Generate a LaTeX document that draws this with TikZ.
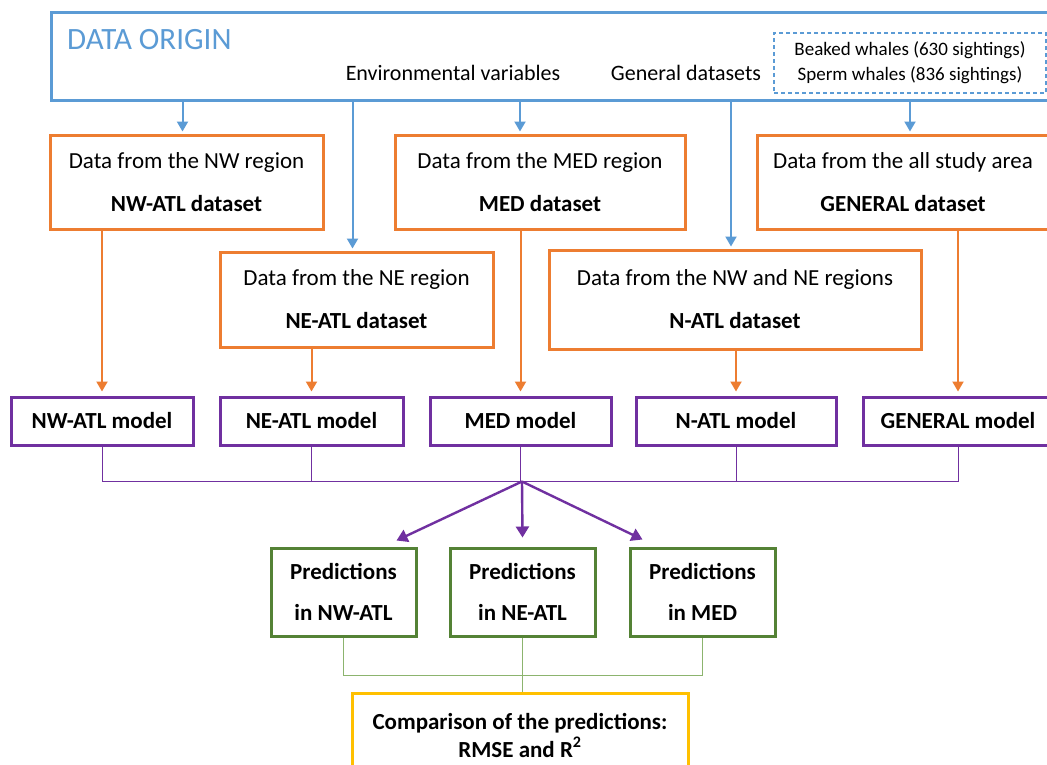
\documentclass[tikz,border=0pt]{standalone}
\usepackage{fontspec}
\setmainfont{Carlito}
\usetikzlibrary{arrows.meta,calc}
\definecolor{cblue}{HTML}{5B9BD5}
\definecolor{corange}{HTML}{ED7D31}
\definecolor{cpurple}{HTML}{7030A0}
\definecolor{cgreen}{HTML}{548235}
\definecolor{clgreen}{RGB}{140,180,110}
\definecolor{cyellow}{HTML}{FFC000}
\tikzset{
  txt/.style={font=\fontsize{22}{26}\selectfont, inner sep=0pt},
  obox/.style={draw=corange, line width=3pt, fill=white, align=center, font=\fontsize{23}{27}\selectfont, inner sep=0pt},
  mbox/.style={draw=cpurple, line width=3pt, fill=white, align=center, font=\fontsize{23}{27}\selectfont\bfseries, inner sep=0pt, minimum height=48pt},
  gbox/.style={draw=cgreen, line width=3pt, fill=white, align=center, font=\fontsize{23}{27}\selectfont\bfseries, inner sep=0pt, minimum width=145pt, minimum height=88pt},
  ybox/.style={draw=cyellow, line width=3pt, fill=white, align=center, font=\fontsize{23}{27}\selectfont\bfseries, inner sep=0pt},
  barrow/.style={draw=cblue, line width=2pt, -{Triangle[width=11pt,length=10pt]}, shorten >=2pt},
  oarrow/.style={draw=corange, line width=2pt, -{Triangle[width=11pt,length=10pt]}, shorten >=4pt},
  parrow/.style={draw=cpurple, line width=2.4pt, -{Triangle[width=13pt,length=11pt]}},
  pline/.style={draw=cpurple, line width=1pt},
  gline/.style={draw=clgreen, line width=1.2pt},
}
\begin{document}
\begin{tikzpicture}[x=1pt,y=-1pt]
\useasboundingbox (0,0) rectangle (1047,764);
\fill[white] (0,0) rectangle (1047,764);
\clip (0,0) rectangle (1047,764);

% data origin
\node[draw=cblue, line width=3pt, minimum width=1009pt, minimum height=88pt, inner sep=0pt] (origin) at (555.5,56) {};
\node[txt, anchor=base west, text=cblue, font=\fontsize{31}{37}\selectfont] (title) at (67,49) {DATA ORIGIN};
\node[txt] (env) at (453,73) {Environmental variables};
\node[txt] (gends) at (686,73) {General datasets};
\node[draw=cblue, dashed, dash pattern=on 4pt off 3pt, line width=1.3pt, minimum width=272pt, minimum height=60pt, align=center, inner sep=0pt, font=\fontsize{19}{25}\selectfont] (whales) at (910,63) {Beaked whales (630 sightings)\\Sperm whales (836 sightings)};

% datasets
\node[obox, minimum width=273pt, minimum height=94pt] (nw) at (186.5,182) {Data from the NW region\\[16pt]\textbf{NW-ATL dataset}};
\node[obox, minimum width=290pt, minimum height=94pt] (med) at (540,182) {Data from the MED region\\[16pt]\textbf{MED dataset}};
\node[obox, minimum width=292pt, minimum height=94pt] (gen) at (903,182) {Data from the all study area\\[16pt]\textbf{GENERAL dataset}};
\node[obox, minimum width=273pt, minimum height=95pt] (ne) at (356.5,299.5) {Data from the NE region\\[16pt]\textbf{NE-ATL dataset}};
\node[obox, minimum width=372pt, minimum height=99pt] (natl) at (735,299.5) {Data from the NW and NE regions\\[16pt]\textbf{N-ATL dataset}};

% models
\node[mbox, minimum width=182pt] (nwm) at (102,421) {NW-ATL model};
\node[mbox, minimum width=183pt] (nem) at (311.5,421) {NE-ATL model};
\node[mbox, minimum width=181pt] (medm) at (520.5,421) {MED model};
\node[mbox, minimum width=200pt] (natlm) at (736,421) {N-ATL model};
\node[mbox, minimum width=190pt] (genm) at (958,421) {GENERAL model};

% predictions
\node[gbox] (p1) at (343.5,592) {Predictions\\[14pt]in NW-ATL};
\node[gbox] (p2) at (522.5,592) {Predictions\\[14pt]in NE-ATL};
\node[gbox] (p3) at (702.5,592) {Predictions\\[14pt]in MED};

% comparison
\node[ybox, minimum width=336pt, minimum height=84pt] (cmp) at (520,735) {Comparison of the predictions:\\[1pt]RMSE and R\textsuperscript{2}};

% blue arrows
\coordinate (a1) at ($(nw.north)+(-4,0)$);
\coordinate (a2) at ($(ne.north)+(-4,0)$);
\coordinate (a3) at ($(med.north)+(-20,0)$);
\coordinate (a4) at ($(natl.north)+(-4,0)$);
\coordinate (a5) at ($(gen.north)+(7,0)$);
\foreach \a in {a1,a2,a3,a4,a5} \draw[barrow] (origin.south -| \a) -- (\a);

% orange arrows
\draw[oarrow] (nwm.north |- nw.south) -- (nwm.north);
\draw[oarrow] (nem.north |- ne.south) -- (nem.north);
\draw[oarrow] (medm.north |- med.south) -- (medm.north);
\draw[oarrow] (natlm.north |- natl.south) -- (natlm.north);
\draw[oarrow] (genm.north |- gen.south) -- (genm.north);

% purple connectors
\coordinate (pj) at ($(medm.south)+(1.5,35)$);
\draw[pline] (nwm.south) -- (nwm.south |- pj) -- (genm.south |- pj) -- (genm.south);
\draw[pline] (nem.south) -- (nem.south |- pj);
\draw[pline] (medm.south) -- (medm.south |- pj);
\draw[pline] (natlm.south) -- (natlm.south |- pj);
\draw[parrow] (pj) -- ($(p1.north east)+(-21,-6)$);
\draw[parrow] (pj) -- ($(p2.north)+(0,-9)$);
\draw[parrow] (pj) -- ($(p3.north west)+(14,-7)$);

% green connectors
\coordinate (gj) at ($(p2.south)+(0,38)$);
\draw[gline] (p1.south) -- (p1.south |- gj) -- (p3.south |- gj) -- (p3.south);
\draw[gline] (p2.south) -- (p2.south |- cmp.north);
\end{tikzpicture}
\end{document}
